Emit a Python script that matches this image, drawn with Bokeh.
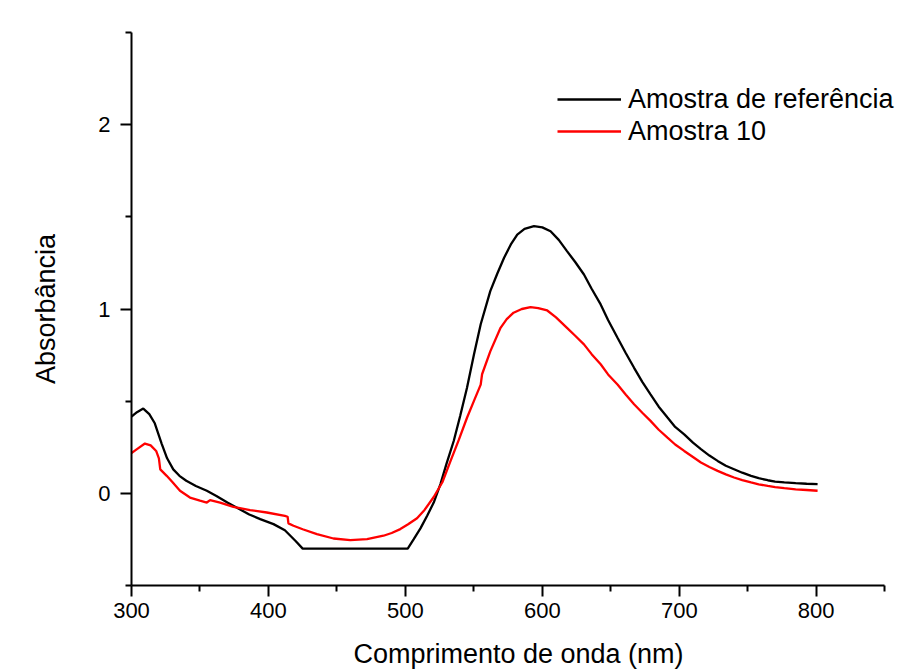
from bokeh.plotting import figure
from bokeh.models import Range1d, FixedTicker, Legend, LegendItem
from bokeh.embed import file_html
from bokeh.resources import INLINE

# Data
ref_x = [300, 304, 308.6, 313, 317, 322, 326, 330.5, 335, 340, 347, 355, 362, 370, 379, 386, 394,
         403.7, 412, 416, 420, 425, 501.7, 506, 511, 516, 520.7, 525.6, 530, 535.3, 540, 545, 550,
         555, 562, 567, 572, 577, 581.7, 587, 593.9, 600, 606, 612, 618, 624, 630.4, 636, 642.6,
         648, 654.9, 661, 667, 673, 679, 685, 691.4, 697, 703.6, 710, 715.8, 722, 728, 734, 740,
         746, 752.4, 758, 764.6, 770, 776.7, 785, 793, 801]
ref_y = [0.416, 0.44, 0.46, 0.43, 0.38, 0.27, 0.19, 0.13, 0.095, 0.068, 0.04, 0.014, -0.014, -0.05,
         -0.086, -0.115, -0.14, -0.167, -0.2, -0.23, -0.26, -0.30, -0.30, -0.25, -0.19, -0.12,
         -0.05, 0.05, 0.16, 0.284, 0.42, 0.573, 0.75, 0.917, 1.097, 1.19, 1.277, 1.35, 1.404,
         1.435, 1.449, 1.443, 1.422, 1.375, 1.314, 1.255, 1.187, 1.11, 1.025, 0.94, 0.844, 0.76,
         0.681, 0.605, 0.537, 0.47, 0.411, 0.36, 0.32, 0.275, 0.24, 0.205, 0.176, 0.15, 0.131,
         0.112, 0.095, 0.082, 0.071, 0.064, 0.059, 0.055, 0.052, 0.05]

s10_x = [300, 304, 309.8, 314, 318, 320, 321, 325.7, 330, 335.4, 342.7, 350, 355, 357.4, 364.7,
         374.4, 386.6, 398.8, 412, 414, 414.6, 418.3, 425, 435.4, 447.5, 459.8, 472, 484, 490,
         496.3, 502, 508.5, 514, 520.7, 527, 533, 539, 545, 550, 555, 556, 562, 569.5, 574, 579,
         585, 591.4, 597, 603.6, 610, 618, 624, 630.4, 636, 642.6, 648, 654.9, 661, 667, 673,
         679, 685, 691.4, 697, 703.6, 710, 715.8, 722, 728, 734, 740, 746, 752.4, 758, 764.6,
         770, 776.7, 785, 793, 801]
s10_y = [0.218, 0.24, 0.27, 0.26, 0.23, 0.19, 0.13, 0.095, 0.06, 0.014, -0.023, -0.04, -0.05,
         -0.037, -0.05, -0.073, -0.091, -0.104, -0.122, -0.127, -0.163, -0.176, -0.195, -0.221,
         -0.245, -0.254, -0.248, -0.23, -0.215, -0.194, -0.168, -0.135, -0.09, -0.02, 0.06,
         0.176, 0.29, 0.41, 0.5, 0.59, 0.646, 0.77, 0.898, 0.945, 0.98, 1.0, 1.01, 1.005, 0.992,
         0.955, 0.898, 0.855, 0.808, 0.755, 0.7, 0.645, 0.59, 0.535, 0.483, 0.437, 0.393, 0.345,
         0.302, 0.265, 0.23, 0.197, 0.167, 0.143, 0.122, 0.103, 0.086, 0.072, 0.059, 0.049,
         0.04, 0.034, 0.028, 0.022, 0.018, 0.014]

x_ticks = [300, 400, 500, 600, 700, 800]
x_minor = [350, 450, 550, 650, 750, 850]
y_ticks = [0, 1, 2]
y_minor = [-0.5, 0.5, 1.5, 2.5]

labels = ["Amostra de referência", "Amostra 10"]
colors = ["black", "red"]

FONT = "Liberation Sans"

p = figure(output_backend="svg", toolbar_location=None,
           frame_width=774, frame_height=553,
           min_border_left=131, min_border_top=32, min_border_right=3, min_border_bottom=86,
           x_range=Range1d(300, 865.2), y_range=Range1d(-0.5, 2.5),
           x_axis_label="Comprimento de onda (nm)", y_axis_label="Absorbância")
p.outline_line_color = None
p.grid.visible = False
p.background_fill_color = "white"
p.border_fill_color = "white"

for ax in (p.xaxis[0], p.yaxis[0]):
    ax.axis_line_width = 2
    ax.axis_line_color = "black"
    ax.major_tick_line_width = 2
    ax.minor_tick_line_width = 2
    ax.major_tick_out = 11
    ax.major_tick_in = 0
    ax.minor_tick_out = 6
    ax.minor_tick_in = 0
    ax.major_label_text_font = FONT
    ax.major_label_text_font_size = "22px"
    ax.major_label_text_color = "black"
    ax.axis_label_text_font = FONT
    ax.axis_label_text_font_size = "27px"
    ax.axis_label_text_font_style = "normal"
    ax.axis_label_text_color = "black"

p.xaxis[0].ticker = FixedTicker(ticks=x_ticks, minor_ticks=x_minor)
p.xaxis[0].bounds = (300, 850)
p.yaxis[0].ticker = FixedTicker(ticks=y_ticks, minor_ticks=y_minor)
p.xaxis[0].major_label_standoff = 6
p.xaxis[0].axis_label_standoff = 18
p.yaxis[0].major_label_standoff = 10
p.yaxis[0].axis_label_standoff = 34

r1 = p.line(ref_x, ref_y, line_color=colors[0], line_width=2.3)
r2 = p.line(s10_x, s10_y, line_color=colors[1], line_width=2.3)

legend = Legend(items=[LegendItem(label=labels[0], renderers=[r1]),
                       LegendItem(label=labels[1], renderers=[r2])],
                location=(426, 438), margin=0, padding=0, spacing=0,
                glyph_width=64, glyph_height=32, label_height=32, label_standoff=7,
                label_text_font=FONT, label_text_font_size="27px", label_text_color="black",
                border_line_color=None, background_fill_alpha=0)
p.add_layout(legend, "center")

open("out.html", "w").write(file_html(p, INLINE))
